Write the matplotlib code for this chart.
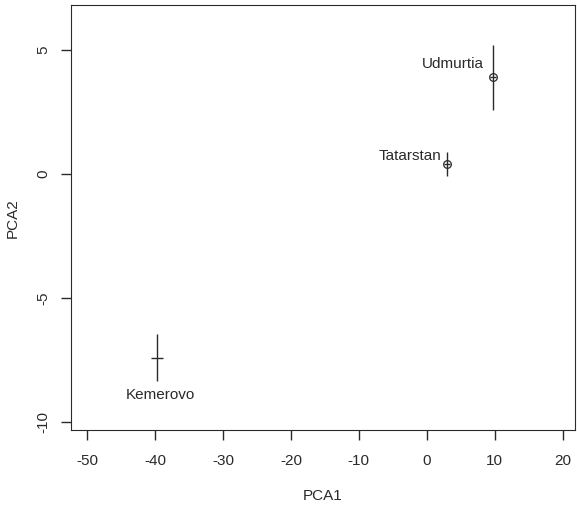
import matplotlib
matplotlib.use("Agg")
import matplotlib.pyplot as plt

plt.rcParams["font.family"] = ["Liberation Sans", "DejaVu Sans"]

# regions and their PCA coordinates
regions = ["Udmurtia", "Tatarstan", "Kemerovo"]
pca1 = [9.81, 3.03, -39.76]
pca2 = [3.89, 0.40, -7.40]
err_y = [1.31, 0.50, 0.96]
err_x = [0.45, 0.45, 0.88]
circled = [True, True, False]
# label anchor positions
lab_x = [8.44, 2.21, -39.15]
lab_y = [4.44, 0.73, -8.92]
lab_ha = ["right", "right", "center"]

fig = plt.figure(figsize=(5.77, 5.11), dpi=100)
ax = fig.add_axes([70.7 / 577, 81 / 511, 504.3 / 577, 424.7 / 511])

col = "#2a2a2a"
for i in range(len(regions)):
    ax.errorbar(pca1[i], pca2[i], yerr=err_y[i], xerr=err_x[i], fmt="none",
                ecolor=col, elinewidth=1.0, capsize=0)
    if circled[i]:
        ax.plot(pca1[i], pca2[i], marker="o", ms=5.5, mfc="none", mec=col, mew=0.9)
    ax.text(lab_x[i], lab_y[i], regions[i], ha=lab_ha[i], va="center",
            fontsize=11, color=col)

ax.set_xlim(-52.43, 21.84)
ax.set_ylim(-10.32, 6.80)
xt = [-50, -40, -30, -20, -10, 0, 10, 20]
yt = [-10, -5, 0, 5]
ax.set_xticks(xt)
ax.set_xticklabels([str(v) for v in xt])
ax.set_yticks(yt)
ax.set_yticklabels([str(v) for v in yt], rotation=90, va="center")
ax.tick_params(direction="out", length=7, width=1.0, labelsize=11, colors=col)
ax.tick_params(axis="x", pad=10)
ax.tick_params(axis="y", pad=7.5)
for s in ax.spines.values():
    s.set_color(col)
ax.set_xlabel("PCA1", fontsize=11, color=col)
ax.set_ylabel("PCA2", fontsize=11, color=col)
ax.xaxis.set_label_coords(0.5, -(496 - 430) / 424.7, transform=ax.transAxes)
ax.yaxis.set_label_coords(-(70.7 - 13) / 504.3, 0.5, transform=ax.transAxes)
ax.xaxis.label.set_va("center")
ax.yaxis.label.set_va("center")

fig.savefig("out.png", dpi=100)
